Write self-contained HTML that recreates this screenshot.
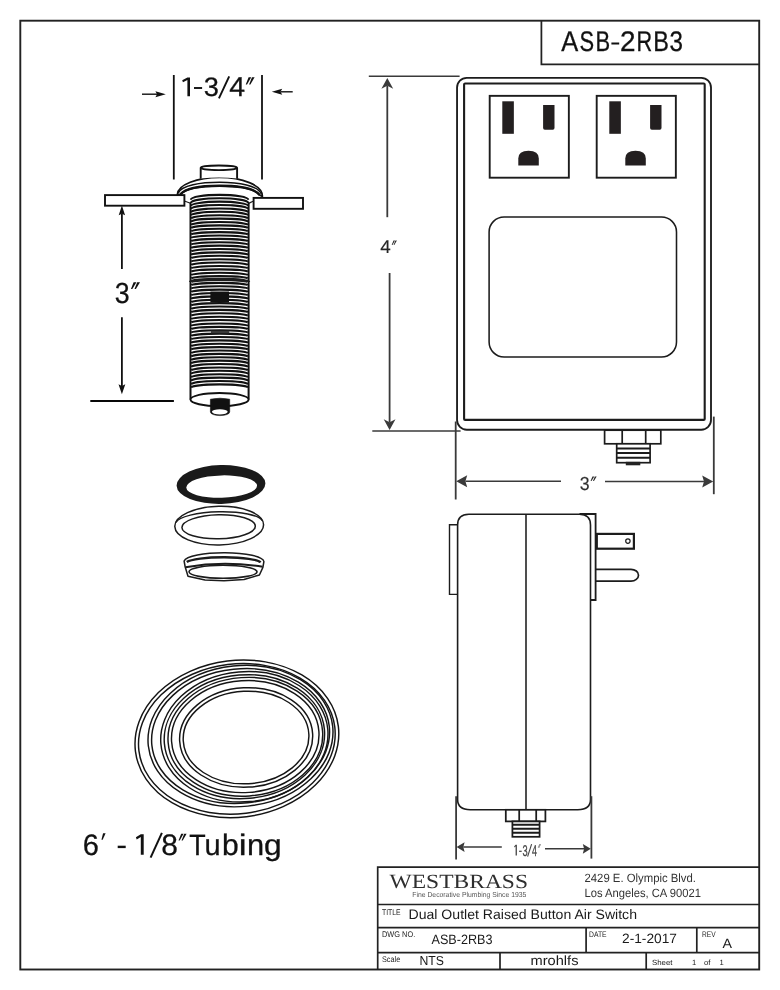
<!DOCTYPE html>
<html><head><meta charset="utf-8"><title>ASB-2RB3</title>
<style>
html,body{margin:0;padding:0;background:#fff;}
body{width:780px;height:990px;overflow:hidden;position:relative;font-family:"Liberation Sans",sans-serif;}
svg{display:block;position:absolute;left:0;top:0;will-change:transform;text-rendering:geometricPrecision;}
</style></head><body>
<svg width="780" height="990" viewBox="0 0 780 990">
<rect width="780" height="990" fill="#fff"/>
<rect x="20.3" y="20.7" width="738.9" height="948.8" fill="none" stroke="#222" stroke-width="1.9"/>
<path d="M541.4 20.7 V64.3 H759.2" fill="none" stroke="#222" stroke-width="1.75"/>
<text transform="translate(561.25 51.20) scale(0.897 1)" font-family="'Liberation Sans', sans-serif" font-size="28.40" fill="#111" stroke="#111" stroke-width="0.3">A</text>
<text transform="translate(579.61 51.20) scale(0.771 1)" font-family="'Liberation Sans', sans-serif" font-size="28.40" fill="#111" stroke="#111" stroke-width="0.3">S</text>
<text transform="translate(595.40 51.20) scale(0.774 1)" font-family="'Liberation Sans', sans-serif" font-size="28.40" fill="#111" stroke="#111" stroke-width="0.3">B</text>
<text transform="translate(620.10 51.20) scale(0.982 1)" font-family="'Liberation Sans', sans-serif" font-size="28.40" fill="#111" stroke="#111" stroke-width="0.3">2</text>
<text transform="translate(636.62 51.20) scale(0.765 1)" font-family="'Liberation Sans', sans-serif" font-size="28.40" fill="#111" stroke="#111" stroke-width="0.3">R</text>
<text transform="translate(653.27 51.20) scale(0.827 1)" font-family="'Liberation Sans', sans-serif" font-size="28.40" fill="#111" stroke="#111" stroke-width="0.3">B</text>
<text transform="translate(669.38 51.20) scale(0.854 1)" font-family="'Liberation Sans', sans-serif" font-size="28.40" fill="#111" stroke="#111" stroke-width="0.3">3</text>
<rect x="611.40" y="42.50" width="7.80" height="2.00" fill="#111"/>
<line x1="173.8" y1="75" x2="173.8" y2="179.5" stroke="#111" stroke-width="1.8"/>
<line x1="262" y1="75" x2="262" y2="179.5" stroke="#111" stroke-width="1.8"/>
<line x1="142.00" y1="94.20" x2="157.06" y2="94.20" stroke="#111" stroke-width="1.4"/>
<path d="M165.80 94.20 L155.40 97.20 L157.06 94.20 L155.40 91.20 Z" fill="#111"/>
<line x1="292.70" y1="91.80" x2="280.54" y2="91.80" stroke="#111" stroke-width="1.4"/>
<path d="M271.80 91.80 L282.20 88.80 L280.54 91.80 L282.20 94.80 Z" fill="#111"/>
<path d="M187.40 77.50 H190.00 V96.30 H187.40 V80.04 L182.95 82.29 L182.20 80.32 Z" fill="#111"/>
<rect x="194.00" y="87.05" width="8.10" height="1.90" fill="#111"/>
<text transform="translate(203.76 96.30) scale(1.023 1)" font-family="'Liberation Sans', sans-serif" font-size="26.60" fill="#111" stroke="#111" stroke-width="0.25">3</text>
<line x1="218.90" y1="98.30" x2="229.20" y2="76.30" stroke="#111" stroke-width="1.9"/>
<text transform="translate(229.14 96.30) scale(1.047 1)" font-family="'Liberation Sans', sans-serif" font-size="27.30" fill="#111" stroke="#111" stroke-width="0.25">4</text>
<path d="M248.62 77.20 h2.63 L247.05 84.40 h-1.31 Z" fill="#111"/>
<path d="M251.97 77.20 h2.63 L250.39 84.40 h-1.31 Z" fill="#111"/>
<line x1="121.90" y1="269.00" x2="121.90" y2="213.65" stroke="#111" stroke-width="1.8"/>
<path d="M121.90 205.50 L125.10 215.20 L121.90 213.65 L118.70 215.20 Z" fill="#111"/>
<line x1="121.90" y1="317.30" x2="121.90" y2="385.90" stroke="#111" stroke-width="1.8"/>
<path d="M121.90 394.30 L118.50 384.30 L121.90 385.90 L125.30 384.30 Z" fill="#111"/>
<line x1="90.3" y1="400.9" x2="173.9" y2="400.9" stroke="#080808" stroke-width="2"/>
<text transform="translate(114.78 303.20) scale(0.924 1)" font-family="'Liberation Sans', sans-serif" font-size="29.00" fill="#111" stroke="#111" stroke-width="0.25">3</text>
<path d="M133.61 282.30 h2.81 L132.35 289.00 h-1.40 Z" fill="#111"/>
<path d="M137.19 282.30 h2.81 L135.92 289.00 h-1.40 Z" fill="#111"/>
<path d="M190.5 203 V399.6 A29.049999999999997 6.6 0 0 0 248.6 399.6 V203 A29.049999999999997 8 0 0 0 190.5 203 Z" fill="#fff" stroke="none"/>
<path d="M190.5 202.5 V399.6 M248.6 202.5 V399.6" fill="none" stroke="#111" stroke-width="2"/>
<path d="M190.9 199.70 A28.65 4.80 0 0 1 248.2 199.70 M190.9 202.88 A28.65 4.59 0 0 1 248.2 202.88 M190.9 206.06 A28.65 4.39 0 0 1 248.2 206.06 M190.9 209.23 A28.65 4.18 0 0 1 248.2 209.23 M190.9 212.41 A28.65 3.98 0 0 1 248.2 212.41 M190.9 215.59 A28.65 3.77 0 0 1 248.2 215.59 M190.9 218.77 A28.65 3.57 0 0 1 248.2 218.77 M190.9 221.94 A28.65 3.36 0 0 1 248.2 221.94 M190.9 225.12 A28.65 3.16 0 0 1 248.2 225.12 M190.9 228.30 A28.65 2.95 0 0 1 248.2 228.30 M190.9 231.48 A28.65 2.75 0 0 1 248.2 231.48 M190.9 234.65 A28.65 2.54 0 0 1 248.2 234.65 M190.9 238.00 A28.65 2.50 0 0 1 248.2 238.00 M190.9 241.38 A28.65 2.50 0 0 1 248.2 241.38 M190.9 244.76 A28.65 2.50 0 0 1 248.2 244.76 M190.9 248.15 A28.65 2.50 0 0 1 248.2 248.15 M190.9 251.53 A28.65 2.50 0 0 1 248.2 251.53 M190.9 254.91 A28.65 2.50 0 0 1 248.2 254.91 M190.9 258.29 A28.65 2.50 0 0 1 248.2 258.29 M190.9 261.68 A28.65 2.50 0 0 1 248.2 261.68 M190.9 265.06 A28.65 2.50 0 0 1 248.2 265.06 M190.9 268.44 A28.65 2.50 0 0 1 248.2 268.44 M190.9 271.83 A28.65 2.50 0 0 1 248.2 271.83 M190.9 275.21 A28.65 2.50 0 0 1 248.2 275.21 M190.9 278.59 A28.65 2.50 0 0 1 248.2 278.59 M190.9 281.98 A28.65 2.50 0 0 1 248.2 281.98 M190.9 285.36 A28.65 2.50 0 0 1 248.2 285.36 M190.9 288.74 A28.65 2.50 0 0 1 248.2 288.74 M190.9 292.12 A28.65 2.50 0 0 1 248.2 292.12 M190.9 295.51 A28.65 2.50 0 0 1 248.2 295.51 M190.9 298.89 A28.65 2.50 0 0 1 248.2 298.89 M190.9 302.27 A28.65 2.50 0 0 1 248.2 302.27 M190.9 305.66 A28.65 2.50 0 0 1 248.2 305.66 M190.9 309.04 A28.65 2.50 0 0 1 248.2 309.04 M190.9 312.42 A28.65 2.50 0 0 1 248.2 312.42 M190.9 315.81 A28.65 2.50 0 0 1 248.2 315.81 M190.9 319.19 A28.65 2.50 0 0 1 248.2 319.19 M190.9 322.57 A28.65 2.50 0 0 1 248.2 322.57 M190.9 325.95 A28.65 2.50 0 0 1 248.2 325.95 M190.9 329.34 A28.65 2.50 0 0 1 248.2 329.34 M190.9 332.72 A28.65 2.50 0 0 1 248.2 332.72 M190.9 336.10 A28.65 2.50 0 0 1 248.2 336.10 M190.9 339.49 A28.65 2.50 0 0 1 248.2 339.49 M190.9 342.94 A28.65 2.57 0 0 1 248.2 342.94 M190.9 346.39 A28.65 2.64 0 0 1 248.2 346.39 M190.9 349.85 A28.65 2.71 0 0 1 248.2 349.85 M190.9 353.30 A28.65 2.79 0 0 1 248.2 353.30 M190.9 356.76 A28.65 2.86 0 0 1 248.2 356.76 M190.9 360.21 A28.65 2.93 0 0 1 248.2 360.21 M190.9 363.67 A28.65 3.00 0 0 1 248.2 363.67 M190.9 367.12 A28.65 3.07 0 0 1 248.2 367.12 M190.9 370.58 A28.65 3.14 0 0 1 248.2 370.58 M190.9 374.03 A28.65 3.21 0 0 1 248.2 374.03 M190.9 377.48 A28.65 3.29 0 0 1 248.2 377.48 M190.9 380.94 A28.65 3.36 0 0 1 248.2 380.94 M190.9 384.39 A28.65 3.43 0 0 1 248.2 384.39 M190.9 387.85 A28.65 3.50 0 0 1 248.2 387.85" fill="none" stroke="#111" stroke-width="2.1"/>
<rect x="211" y="330.7" width="18.2" height="2.6" fill="#3a3a3a"/>
<path d="M190.5 281.9 A29.049999999999997 2.6 0 0 1 248.6 281.9" fill="none" stroke="#1c1c1c" stroke-width="3.2"/>
<rect x="210.4" y="291.5" width="18.6" height="10.9" fill="#111"/>
<ellipse cx="219.55" cy="399.6" rx="29.05" ry="6.6" fill="#fff" stroke="#111" stroke-width="1.9"/>
<path d="M210.4 399.2 Q220 397.2 229.7 399.2 V412 A9.65 3.6 0 0 1 210.4 412 Z" fill="#111" stroke="#111" stroke-width="0.6"/>
<ellipse cx="219.8" cy="411.8" rx="7.9" ry="2.6" fill="#fff"/>
<path d="M184.4 201 L190.4 203.2 M253 201.2 L248.7 203.4" fill="none" stroke="#1c1c1c" stroke-width="1.2"/>
<path d="M177.3 195 C177 184.5 198 177.4 219.6 177.4 C241.5 177.4 262.8 185 262.4 196.4 L259.6 195 C254 187.8 236 185.8 219.6 185.8 C203 185.8 186 187.8 180.4 194.4 Z" fill="#fff" stroke="#111" stroke-width="1.7" stroke-linejoin="round"/>
<path d="M180.4 194.4 C186 187.8 203 185.8 219.6 185.8 C236 185.8 254 187.8 259.6 195" fill="none" stroke="#111" stroke-width="2.4"/>
<path d="M178.2 193.2 C181 185.2 201 182.3 219.6 182.3 C238.5 182.3 258.5 185.5 261.4 194.4" fill="none" stroke="#111" stroke-width="1.4"/>
<path d="M200.6 167.8 V178.6 Q219 176.4 237.2 178.6 V167.8 Z" fill="#fff" stroke="none"/>
<path d="M200.7 167.8 V178.8 M237.1 167.8 V178.8" fill="none" stroke="#111" stroke-width="1.9"/>
<ellipse cx="218.9" cy="167.8" rx="18.2" ry="2.3" fill="#fff" stroke="#111" stroke-width="1.8"/>
<rect x="105" y="195.1" width="79.4" height="10.6" fill="#fff" stroke="#111" stroke-width="1.9"/>
<rect x="253.6" y="197.9" width="49.4" height="10.9" fill="#fff" stroke="#111" stroke-width="1.9"/>
<g transform="rotate(-1.5 221 485)"><path fill-rule="evenodd" fill="#1a1a1a" d="M176.6 484.5 a44.4 19.4 0 1 0 88.8 0 a44.4 19.4 0 1 0 -88.8 0 Z M186.2 486.6 a35.4 11.2 0 1 0 70.8 0 a35.4 11.2 0 1 0 -70.8 0 Z"/></g>
<g transform="rotate(-1.2 219 526)" fill="#fff" stroke="#1c1c1c" stroke-width="1.5">
<ellipse cx="219.2" cy="525.6" rx="44.4" ry="19.3"/>
<path d="M176 521.6 A43.6 11.4 0 0 1 262.4 521.6" fill="none" stroke-width="1.4"/>
<ellipse cx="218.6" cy="526.8" rx="36.7" ry="12"/>
</g>
<g fill="none" stroke="#1c1c1c" stroke-linejoin="round">
<path d="M184.1 561 L185.2 567 L188 576.3 L205 579.9 L224 580.7 L244 579.5 L259.4 575 L262.9 567.4 L263.9 561.5 A40 9.2 0 0 0 184.1 561 Z" fill="#fff" stroke-width="1.5"/>
<path d="M186.8 562 A37.4 5.9 0 0 1 260.6 562.4" stroke-width="2.3"/>
<path d="M185.4 567.2 Q224 560.6 262.6 566.8" stroke-width="2"/>
<ellipse cx="223" cy="571.8" rx="34" ry="6.5" stroke-width="1.6"/>
</g>
<g fill="none" stroke="#151515" stroke-width="1.45">
<ellipse cx="236.90" cy="738.85" rx="102.21" ry="78.44" transform="rotate(-7 236.90 738.85)"/>
<ellipse cx="236.85" cy="738.90" rx="98.66" ry="74.89" transform="rotate(-7 236.85 738.90)"/>
<ellipse cx="240.50" cy="736.10" rx="92.71" ry="70.42" transform="rotate(-6 240.50 736.10)"/>
<ellipse cx="240.60" cy="736.00" rx="89.21" ry="67.12" transform="rotate(-6 240.60 736.00)"/>
<ellipse cx="244.35" cy="736.75" rx="83.78" ry="65.09" transform="rotate(-5 244.35 736.75)"/>
<ellipse cx="244.40" cy="736.65" rx="80.32" ry="61.79" transform="rotate(-5 244.40 736.65)"/>
<ellipse cx="245.35" cy="736.80" rx="77.43" ry="59.30" transform="rotate(-4 245.35 736.80)"/>
<ellipse cx="245.25" cy="736.60" rx="73.83" ry="55.90" transform="rotate(-4 245.25 736.60)"/>
<ellipse cx="246.15" cy="737.45" rx="66.59" ry="49.70" transform="rotate(-3 246.15 737.45)"/>
<ellipse cx="246.05" cy="737.50" rx="62.89" ry="46.25" transform="rotate(-3 246.05 737.50)"/>
</g>
<text transform="translate(82.83 854.60) scale(0.981 1)" font-family="'Liberation Sans', sans-serif" font-size="29.60" fill="#111" stroke="#111" stroke-width="0.25">6</text>
<path d="M103.10 833.20 h2.50 L102.67 839.80 h-1.25 Z" fill="#111"/>
<rect x="117.70" y="845.70" width="8.00" height="2.40" fill="#111"/>
<path d="M140.80 834.20 H143.70 V854.80 H140.80 V836.98 L136.72 839.45 L135.90 837.29 Z" fill="#111"/>
<line x1="150.60" y1="857.70" x2="161.90" y2="832.80" stroke="#111" stroke-width="2.0"/>
<text transform="translate(161.29 854.60) scale(1.015 1)" font-family="'Liberation Sans', sans-serif" font-size="29.60" fill="#111" stroke="#111" stroke-width="0.25">8</text>
<path d="M181.21 833.70 h2.37 L179.70 840.40 h-1.18 Z" fill="#111"/>
<path d="M184.23 833.70 h2.37 L182.72 840.40 h-1.18 Z" fill="#111"/>
<text transform="translate(189.20 854.80) scale(0.908 1)" font-family="'Liberation Sans', sans-serif" font-size="29.60" fill="#111" stroke="#111" stroke-width="0.3">T</text>
<text transform="translate(204.62 854.80) scale(0.978 1)" font-family="'Liberation Sans', sans-serif" font-size="29.60" fill="#111" stroke="#111" stroke-width="0.3">u</text>
<text transform="translate(222.07 854.80) scale(1.014 1)" font-family="'Liberation Sans', sans-serif" font-size="29.60" fill="#111" stroke="#111" stroke-width="0.3">b</text>
<text transform="translate(238.84 854.80) scale(1.192 1)" font-family="'Liberation Sans', sans-serif" font-size="29.60" fill="#111" stroke="#111" stroke-width="0.3">i</text>
<text transform="translate(247.05 854.80) scale(1.042 1)" font-family="'Liberation Sans', sans-serif" font-size="29.60" fill="#111" stroke="#111" stroke-width="0.3">n</text>
<text transform="translate(263.96 854.80) scale(1.074 1)" font-family="'Liberation Sans', sans-serif" font-size="29.60" fill="#111" stroke="#111" stroke-width="0.3">g</text>
<rect x="457.05" y="77.8" width="253.95" height="351.9" rx="9.7" ry="9.7" fill="#fff" stroke="#1c1c1c" stroke-width="1.85"/>
<rect x="464.1" y="83.45" width="240.6" height="336.45" rx="1" fill="none" stroke="#1c1c1c" stroke-width="2.1"/>
<rect x="489.7" y="95.85" width="79.15" height="81.85" fill="none" stroke="#1c1c1c" stroke-width="1.9"/>
<rect x="502.3" y="101.3" width="11.55" height="32.5" fill="#231f20"/>
<path d="M543.1 105.1 h11.4 v23 q0 1.7 -1.7 1.7 h-8 q-1.7 0 -1.7 -1.7 Z" fill="#231f20"/>
<path d="M518.3 165.5 v-7 q0 -7.7 10.2 -7.7 q10.3 0 10.3 7.7 v7 Z" fill="#231f20"/>
<rect x="596.7" y="95.85" width="79.15" height="81.85" fill="none" stroke="#1c1c1c" stroke-width="1.9"/>
<rect x="609.3" y="101.3" width="11.55" height="32.5" fill="#231f20"/>
<path d="M650.1 105.1 h11.4 v23 q0 1.7 -1.7 1.7 h-8 q-1.7 0 -1.7 -1.7 Z" fill="#231f20"/>
<path d="M625.3 165.5 v-7 q0 -7.7 10.2 -7.7 q10.3 0 10.3 7.7 v7 Z" fill="#231f20"/>
<rect x="489.1" y="217" width="187.4" height="140.05" rx="15" ry="15" fill="none" stroke="#1c1c1c" stroke-width="1.55"/>
<g fill="#fff" stroke="#1c1c1c" stroke-width="1.7">
<rect x="604.6" y="430.2" width="56.2" height="13.6"/>
<path d="M622.2 430.2 V443.8 M645.7 430.2 V443.8" />
<rect x="616.7" y="443.8" width="33.4" height="18.9"/>
</g>
<path d="M616.6 448.4 H650 M616.6 453 H650 M616.6 457.7 H650" stroke="#1c1c1c" stroke-width="2" fill="none"/>
<rect x="625.8" y="461.8" width="14.5" height="3.5" fill="#222"/>
<line x1="368.8" y1="76.3" x2="459.6" y2="76.3" stroke="#3a3a3a" stroke-width="1.6"/>
<line x1="372.3" y1="431" x2="460.6" y2="431" stroke="#3a3a3a" stroke-width="1.6"/>
<line x1="387.30" y1="217.20" x2="387.30" y2="85.78" stroke="#3a3a3a" stroke-width="1.8"/>
<path d="M387.30 78.00 L393.20 88.80 L387.30 85.78 L381.40 88.80 Z" fill="#3a3a3a"/>
<line x1="389.60" y1="273.00" x2="389.60" y2="422.22" stroke="#3a3a3a" stroke-width="1.8"/>
<path d="M389.60 430.00 L383.70 419.20 L389.60 422.22 L395.50 419.20 Z" fill="#3a3a3a"/>
<text transform="translate(380.37 253.30) scale(1.014 1)" font-family="'Liberation Sans', sans-serif" font-size="18.60" fill="#262626" stroke="#262626" stroke-width="0.15">4</text>
<path d="M393.53 240.50 h1.48 L392.42 245.10 h-0.74 Z" fill="#262626"/>
<path d="M395.42 240.50 h1.48 L394.30 245.10 h-0.74 Z" fill="#262626"/>
<line x1="455.7" y1="421.5" x2="455.7" y2="499.5" stroke="#3a3a3a" stroke-width="1.8"/>
<line x1="713.8" y1="416.6" x2="713.8" y2="494.2" stroke="#3a3a3a" stroke-width="1.8"/>
<line x1="561.00" y1="481.30" x2="465.44" y2="481.30" stroke="#3a3a3a" stroke-width="1.5"/>
<path d="M456.20 481.30 L467.20 475.30 L465.44 481.30 L467.20 487.30 Z" fill="#3a3a3a"/>
<line x1="605.00" y1="481.50" x2="703.96" y2="481.50" stroke="#3a3a3a" stroke-width="1.5"/>
<path d="M713.20 481.50 L702.20 487.50 L703.96 481.50 L702.20 475.50 Z" fill="#3a3a3a"/>
<text transform="translate(579.63 489.90) scale(0.942 1)" font-family="'Liberation Sans', sans-serif" font-size="18.80" fill="#2e2e2e" stroke="#2e2e2e" stroke-width="0.15">3</text>
<path d="M592.43 476.50 h1.88 L591.53 481.10 h-0.94 Z" fill="#2e2e2e"/>
<path d="M594.82 476.50 h1.88 L593.92 481.10 h-0.94 Z" fill="#2e2e2e"/>
<path d="M457.6 799.6 V525 Q457.6 514.2 468.8 514.2 H579.5 Q590.5 514.2 590.5 525 V799.6 Q590.5 809.8 577.8 809.8 H470.3 Q457.6 809.8 457.6 799.6 Z" fill="#fff" stroke="#1c1c1c" stroke-width="1.6"/>
<line x1="526" y1="514.2" x2="526" y2="809.8" stroke="#1c1c1c" stroke-width="1.55"/>
<path d="M457.6 524.8 H449.5 V594.4 H457.6" fill="none" stroke="#1c1c1c" stroke-width="1.4"/>
<rect x="596.8" y="533.9" width="37.1" height="14.8" fill="#fff" stroke="#1c1c1c" stroke-width="2.2"/>
<circle cx="627.9" cy="541.1" r="2.2" fill="#fff" stroke="#1c1c1c" stroke-width="1.2"/>
<path d="M595.6 569.3 H631 A7.5 5.9 0 0 1 631 581.1 H595.6" fill="#fff" stroke="#1c1c1c" stroke-width="1.7"/>
<path d="M579.5 514 H595.6 V600 H590.4" fill="none" stroke="#1c1c1c" stroke-width="1.8"/>
<g fill="#fff" stroke="#1c1c1c" stroke-width="1.75">
<rect x="505.8" y="809.8" width="39.6" height="11.6"/>
<path d="M519.2 809.8 V821.4 M536.2 809.8 V821.4"/>
<rect x="512.4" y="821.4" width="27.2" height="15.4"/>
</g>
<path d="M512.4 824.8 H539.6 M512.4 828.7 H539.6 M512.4 832.7 H539.6" stroke="#1c1c1c" stroke-width="1.9" fill="none"/>
<line x1="456.1" y1="796.2" x2="456.1" y2="859.6" stroke="#3a3a3a" stroke-width="1.8"/>
<line x1="591.4" y1="796.2" x2="591.4" y2="858.6" stroke="#3a3a3a" stroke-width="1.8"/>
<line x1="501.80" y1="847.10" x2="463.32" y2="847.10" stroke="#3a3a3a" stroke-width="1.5"/>
<path d="M456.60 847.10 L464.60 842.30 L463.32 847.10 L464.60 851.90 Z" fill="#3a3a3a"/>
<line x1="545.00" y1="848.85" x2="584.08" y2="848.85" stroke="#3a3a3a" stroke-width="1.5"/>
<path d="M590.80 848.85 L582.80 853.75 L584.08 848.85 L582.80 843.95 Z" fill="#3a3a3a"/>
<path d="M515.60 844.80 H516.90 V855.60 H515.60 V846.26 L514.53 847.55 L514.10 846.42 Z" fill="#444"/>
<rect x="519.10" y="850.70" width="2.60" height="1.20" fill="#444"/>
<text transform="translate(522.45 855.50) scale(0.603 1)" font-family="'Liberation Sans', sans-serif" font-size="15.40" fill="#444" stroke="#444" stroke-width="0.3">3</text>
<line x1="527.60" y1="856.60" x2="531.60" y2="844.20" stroke="#444" stroke-width="1.1"/>
<text transform="translate(531.90 855.60) scale(0.569 1)" font-family="'Liberation Sans', sans-serif" font-size="15.70" fill="#444" stroke="#444" stroke-width="0.3">4</text>
<path d="M539.31 844.30 h0.70 L538.18 847.90 h-0.35 Z" fill="#444"/>
<path d="M540.20 844.30 h0.70 L539.07 847.90 h-0.35 Z" fill="#444"/>
<path d="M377.7 969.6 V867.15 H759.2 M377.7 904.5 H759.2 M377.7 927.6 H759.2 M377.7 952.6 H759.2 M500 952.6 V969.6 M646.2 952.6 V969.6 M586.1 927.6 V952.6 M696.8 927.6 V952.6" fill="none" stroke="#222" stroke-width="1.7"/>
<text x="389.6" y="888" font-family="'Liberation Serif', sans-serif" font-size="20.2" fill="#2e2e2e" textLength="138.4" lengthAdjust="spacingAndGlyphs" >WESTBRASS</text>
<text x="412.3" y="897.2" font-family="'Liberation Sans', sans-serif" font-size="7.2" fill="#555" textLength="114" lengthAdjust="spacingAndGlyphs" >Fine Decorative Plumbing Since 1935</text>
<text x="584.5" y="882.2" font-family="'Liberation Sans', sans-serif" font-size="12" fill="#333" textLength="111.5" lengthAdjust="spacingAndGlyphs" >2429 E. Olympic Blvd.</text>
<text x="584.5" y="896.6" font-family="'Liberation Sans', sans-serif" font-size="12" fill="#333" textLength="116.5" lengthAdjust="spacingAndGlyphs" >Los Angeles, CA 90021</text>
<text x="382" y="914.8" font-family="'Liberation Sans', sans-serif" font-size="8.2" fill="#222" textLength="18.6" lengthAdjust="spacingAndGlyphs" >TITLE</text>
<text x="408.5" y="918.5" font-family="'Liberation Sans', sans-serif" font-size="13.7" fill="#1a1a1a" textLength="228.5" lengthAdjust="spacingAndGlyphs" >Dual Outlet Raised Button Air Switch</text>
<text x="382" y="937.1" font-family="'Liberation Sans', sans-serif" font-size="8.2" fill="#222" textLength="33.2" lengthAdjust="spacingAndGlyphs" >DWG NO.</text>
<text x="431.5" y="944.1" font-family="'Liberation Sans', sans-serif" font-size="13.6" fill="#1a1a1a" textLength="61" lengthAdjust="spacingAndGlyphs" >ASB-2RB3</text>
<text x="589" y="936.9" font-family="'Liberation Sans', sans-serif" font-size="8" fill="#222" textLength="17.6" lengthAdjust="spacingAndGlyphs" >DATE</text>
<text x="622" y="942.9" font-family="'Liberation Sans', sans-serif" font-size="13.6" fill="#1a1a1a" textLength="55" lengthAdjust="spacingAndGlyphs" >2-1-2017</text>
<text x="702" y="936.9" font-family="'Liberation Sans', sans-serif" font-size="8" fill="#222" textLength="13.6" lengthAdjust="spacingAndGlyphs" >REV</text>
<text x="722.5" y="947.5" font-family="'Liberation Sans', sans-serif" font-size="13.3" fill="#1a1a1a" textLength="9.5" lengthAdjust="spacingAndGlyphs" >A</text>
<text x="382" y="961.5" font-family="'Liberation Sans', sans-serif" font-size="8.2" fill="#222" textLength="18.2" lengthAdjust="spacingAndGlyphs" >Scale</text>
<text x="419.5" y="964.6" font-family="'Liberation Sans', sans-serif" font-size="13" fill="#1a1a1a" textLength="24.5" lengthAdjust="spacingAndGlyphs" >NTS</text>
<text x="530.5" y="964.6" font-family="'Liberation Sans', sans-serif" font-size="13.4" fill="#1a1a1a" textLength="48" lengthAdjust="spacingAndGlyphs" >mrohlfs</text>
<text x="652" y="964.5" font-family="'Liberation Sans', sans-serif" font-size="7.6" fill="#222" textLength="20.5" lengthAdjust="spacingAndGlyphs" >Sheet</text>
<text x="692" y="964.5" font-family="'Liberation Sans', sans-serif" font-size="7.6" fill="#222" >1</text>
<text x="704" y="964.5" font-family="'Liberation Sans', sans-serif" font-size="7.6" fill="#222" textLength="6.5" lengthAdjust="spacingAndGlyphs" >of</text>
<text x="719.5" y="964.5" font-family="'Liberation Sans', sans-serif" font-size="7.6" fill="#222" >1</text>
</svg>
</body></html>
